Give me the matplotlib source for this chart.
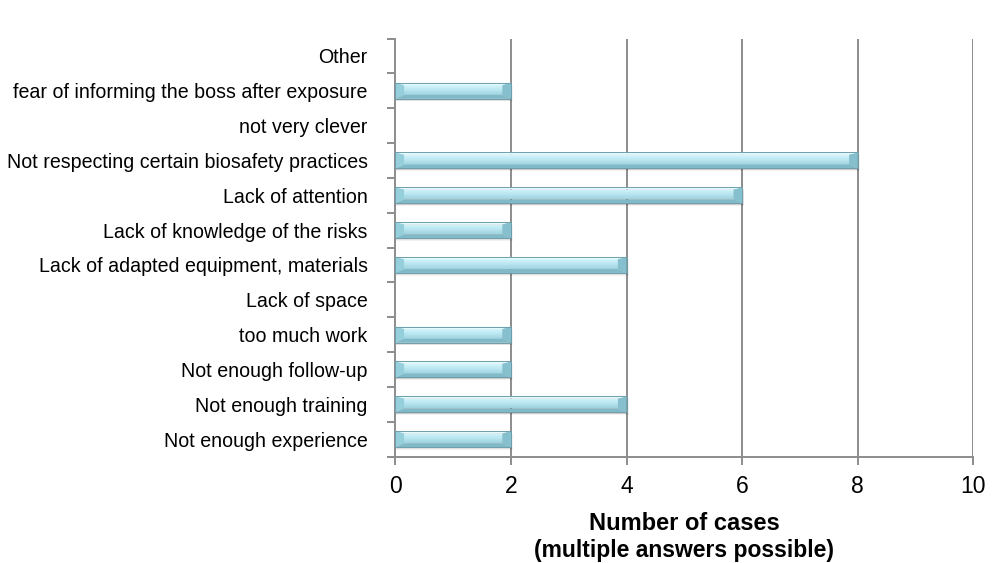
import numpy as np
import matplotlib.pyplot as plt
from matplotlib.patches import Polygon, Rectangle
from matplotlib.colors import LinearSegmentedColormap

plt.rcParams['font.family'] = ['Liberation Sans', 'DejaVu Sans']

categories = [
    "Not enough experience",
    "Not enough training",
    "Not enough follow-up",
    "too much work",
    "Lack of space",
    "Lack of adapted equipment, materials",
    "Lack of knowledge of the risks",
    "Lack of attention",
    "Not respecting certain biosafety practices",
    "not very clever",
    "fear of informing the boss after exposure",
    "Other",
]
cases = [2, 4, 2, 2, 0, 4, 2, 6, 8, 0, 2, 0]
x_ticks = [0, 2, 4, 6, 8, 10]

W, H = 997, 563
fig = plt.figure(figsize=(W / 100, H / 100), dpi=100)
ax = fig.add_axes([395.4 / W, 1 - 456.5 / H, 578 / W, 418 / H])

grid_c = '#8c8c8c'
bar_h = 0.46
y = np.arange(len(categories))

ax.set_xlim(0, 10)
ax.set_ylim(-0.5, len(categories) - 0.5)

for xv in x_ticks[1:]:
    ax.axvline(xv, color=grid_c, lw=1.4, zorder=1)

face = LinearSegmentedColormap.from_list('face', ['#9fd2de', '#b8e6f0', '#d4f5fa'])
gimg = np.linspace(0, 1, 64).reshape(-1, 1)

dx = 0.15      # end facet width (data units)
dy_top = 0.07  # top facet height
dy_bot = 0.11  # bottom facet height

for yi, v in zip(y, cases):
    if v <= 0:
        continue
    y0, y1 = yi - bar_h / 2, yi + bar_h / 2
    # soft shadow below the bar
    for k, a in enumerate([0.05, 0.07, 0.09]):
        off = 0.03 * (3 - k)
        ax.add_patch(Rectangle((0.0, y0 - 0.02 - off * 0.6), v + off * 0.4, bar_h,
                               facecolor='black', alpha=a, lw=0, zorder=2))
    xi0, xi1 = dx, v - dx
    yi0, yi1 = y0 + dy_bot, y1 - dy_top
    inner = Rectangle((xi0, yi0), xi1 - xi0, yi1 - yi0, facecolor='#bde8f1', lw=0, zorder=3)
    ax.add_patch(inner)
    im = ax.imshow(gimg, cmap=face, aspect='auto', extent=(xi0, xi1, yi0, yi1),
                   origin='lower', zorder=3.2, interpolation='bilinear')
    im.set_clip_path(inner)
    # bevel facets
    ax.add_patch(Polygon([(0, y1), (v, y1), (xi1, yi1), (xi0, yi1)], closed=True,
                         facecolor='#e2fafd', lw=0, zorder=3.5))
    ax.add_patch(Polygon([(0, y0), (v, y0), (xi1, yi0), (xi0, yi0)], closed=True,
                         facecolor='#80b9c8', lw=0, zorder=3.5))
    ax.add_patch(Polygon([(0, y0), (0, y1), (xi0, yi1), (xi0, yi0)], closed=True,
                         facecolor='#95cfdc', lw=0, zorder=3.5))
    ax.add_patch(Polygon([(v, y0), (v, y1), (xi1, yi1), (xi1, yi0)], closed=True,
                         facecolor='#86bfcd', lw=0, zorder=3.5))
    ax.add_patch(Rectangle((0, y0), v, bar_h, facecolor='none',
                           edgecolor='#6f9eab', lw=0.7, zorder=4))

ax.set_xticks(x_ticks)
ax.set_xticklabels([str(t) for t in x_ticks], fontsize=16.5)
ax.set_yticks(y)
ax.set_yticklabels(categories, fontsize=14.1)
ax.set_yticks(np.arange(-0.5, len(categories)), minor=True)
ax.tick_params(axis='y', which='major', length=0, pad=20)
ax.tick_params(axis='y', which='minor', length=6, color=grid_c, width=1.4)
ax.tick_params(axis='x', length=6, color=grid_c, width=1.4, pad=7)

for s in ['top', 'right']:
    ax.spines[s].set_visible(False)
for s in ['left', 'bottom']:
    ax.spines[s].set_color(grid_c)
    ax.spines[s].set_linewidth(1.4)

cx = (395.4 + 578 / 2) / W
fig.text(cx, 1 - 523 / H, 'Number of cases', fontsize=17, fontweight='bold',
         ha='center', va='center')
fig.text(cx, 1 - 551 / H, '(multiple answers possible)', fontsize=16.5,
         fontweight='bold', ha='center', va='center')

fig.savefig('out.png', dpi=100)
